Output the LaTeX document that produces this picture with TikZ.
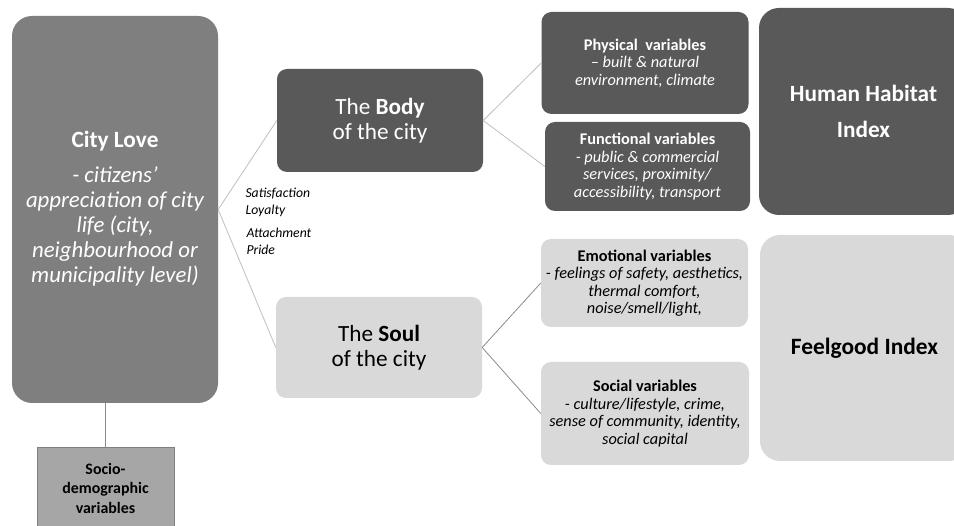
\documentclass[tikz,border=0pt]{standalone}
\usepackage{fontspec}
\setmainfont{Carlito}
\definecolor{boxdark}{HTML}{595959}
\definecolor{boxmid}{HTML}{7F7F7F}
\definecolor{boxlight}{HTML}{D9D9D9}
\definecolor{boxsocio}{HTML}{A6A6A6}
\definecolor{linelight}{HTML}{BFBFBF}
\definecolor{linedark}{HTML}{8C8C8C}
\tikzset{
  box/.style={rounded corners=10pt, align=center, inner sep=2pt},
  darkbox/.style={box, fill=boxdark, text=white},
  lightbox/.style={box, fill=boxlight, text=black},
  varfont/.style={font=\fontsize{16.3}{17.5}\selectfont},
  bigfont/.style={font=\fontsize{23.2}{25}\selectfont},
  thinline/.style={linelight, line width=0.8pt},
  darkline/.style={linedark, line width=0.8pt}
}
\begin{document}
\begin{tikzpicture}[x=1pt,y=-1pt]
			\clip (0,0) rectangle (954,526);
			\fill[white] (0,0) rectangle (954,526);
			% left column
			\node[box, rounded corners=20pt, fill=boxmid, text=white, minimum width=206pt, minimum height=387pt] (love) at (115,209.5) {};
			\node[text=white, align=center, font=\fontsize{22.8}{25}\selectfont] (lovetext) at (115,209) {{\bfseries\fontsize{23.3}{25}\selectfont City Love}\\[10pt]\itshape - citizens’\\\itshape appreciation of city\\\itshape life (city,\\\itshape neighbourhood or\\\itshape municipality level)};
			\node[draw=boxmid, fill=boxsocio, minimum width=137pt, minimum height=82pt, align=center, font=\fontsize{15.9}{19.5}\selectfont\bfseries] (socio) at (105.5,488) {Socio-\\demographic\\variables};
			\draw[darkline] (socio.north) -- (socio.north |- love.south);
			% body and soul
			\node[darkbox, minimum width=206pt, minimum height=103pt, bigfont] (body) at (380,120.5) {The \textbf{Body}\\of the city};
			\node[lightbox, minimum width=206pt, minimum height=101pt, bigfont] (soul) at (379,347.5) {The \textbf{Soul}\\of the city};
			\draw[thinline] (love.east) -- (body.west);
			\draw[thinline] (love.east) -- (soul.west);
			\node[anchor=north west, align=left, font=\fontsize{13.7}{17}\selectfont\itshape] (satis) at (242,185) {Satisfaction\\Loyalty};
			\node[anchor=north west, align=left, font=\fontsize{13.7}{17}\selectfont\itshape] (attach) at (243,224) {Attachment\\Pride};
			% variables
			\node[darkbox, minimum width=207pt, minimum height=102pt, varfont] (phys) at (645,63) {\textbf{Physical\ \ variables}\\\textit{– built \& natural}\\\textit{environment, climate}};
			\node[darkbox, minimum width=205pt, minimum height=89pt, varfont] (func) at (647.5,166.5) {\textbf{Functional variables}\\\textit{- public \& commercial}\\\textit{services, proximity/}\\\textit{accessibility, transport}};
			\node[lightbox, minimum width=207pt, minimum height=88pt, varfont] (emo) at (644.5,283) {\textbf{Emotional variables}\\\textit{- feelings of safety, aesthetics,}\\\textit{thermal comfort,}\\\textit{noise/smell/light,}};
			\node[lightbox, minimum width=208pt, minimum height=103pt, varfont] (soc) at (645,413.5) {\textbf{Social variables}\\\textit{- culture/lifestyle, crime,}\\\textit{sense of community, identity,}\\\textit{social capital}};
			\draw[thinline] (body.east) -- (phys.west);
			\draw[thinline] (body.east) -- (func.west);
			\draw[darkline] (soul.east) -- (emo.west);
			\draw[darkline] (soul.east) -- (soc.west);
			% indices
			\node[darkbox, rounded corners=20pt, minimum width=209pt, minimum height=207pt, font=\fontsize{23.3}{36}\selectfont\bfseries] (habitat) at (863.5,111.5) {Human Habitat\\Index};
			\node[lightbox, rounded corners=20pt, minimum width=209pt, minimum height=226pt, font=\fontsize{23.4}{26}\selectfont\bfseries] (feelgood) at (864.5,348) {Feelgood Index};
		\end{tikzpicture}
\end{document}
